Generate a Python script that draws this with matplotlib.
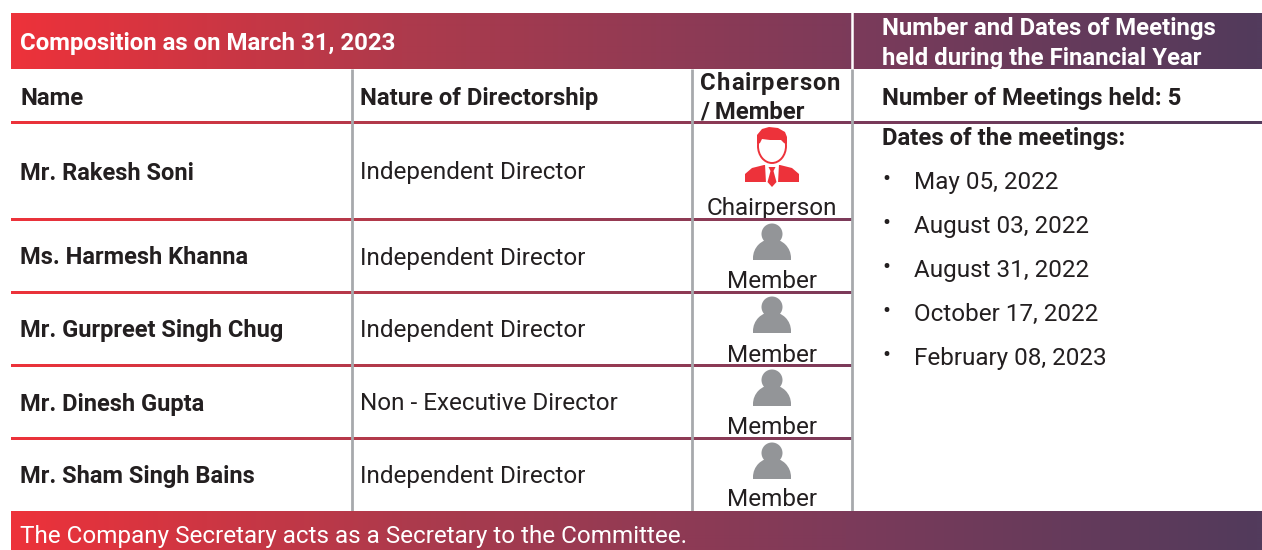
import numpy as np
import matplotlib
matplotlib.use('Agg')
import matplotlib.pyplot as plt
from matplotlib.colors import LinearSegmentedColormap
from matplotlib.patches import Circle, Ellipse, Polygon, Rectangle, Wedge

plt.rcParams['font.family'] = ['Roboto', 'DejaVu Sans']

names = ['Mr. Rakesh Soni', 'Ms. Harmesh Khanna', 'Mr. Gurpreet Singh Chug', 'Mr. Dinesh Gupta', 'Mr. Sham Singh Bains']
nature = ['Independent Director', 'Independent Director', 'Independent Director', 'Non - Executive Director', 'Independent Director']
roles = ['Chairperson', 'Member', 'Member', 'Member', 'Member']
dates = ['May 05, 2022', 'August 03, 2022', 'August 31, 2022', 'October 17, 2022', 'February 08, 2023']
meetings_held = 5

row_lines = [123, 219.5, 292.5, 365.5, 438.5]
row_mid = [173, 258, 331, 404, 477]
role_y = [208.5, 282, 355, 427.5, 500]
date_y = [182, 226, 270, 314, 358]
icon_top = [127, 223, 296, 369, 442]

RED = '#ed323a'
GREY = '#a7a9ac'
ICON = '#939598'
DARK = '#231f20'
FS_BOLD = 17.2
FS_REG = 17.45

cmap = LinearSegmentedColormap.from_list('band', [(0, RED), (0.31, '#ae3a4c'), (0.67, '#7c3a5a'), (1, '#523b5c')])
grad = np.linspace(0, 1, 1251).reshape(1, -1)

fig = plt.figure(figsize=(12.62, 5.5), dpi=100)
ax = fig.add_axes([0, 0, 1, 1])
ax.set_xlim(0, 1262)
ax.set_ylim(550, 0)
ax.axis('off')


def band(y0, y1, x1=1262, z=1):
    # slice of the one gradient so that bands and rules line up
    n = x1 - 11
    ax.imshow(grad[:, :n], extent=[11, x1, y1, y0], cmap=cmap, vmin=0, vmax=1,
              aspect='auto', zorder=z, interpolation='bilinear')


def member_icon(cx, top):
    ax.add_patch(Circle((cx, top + 11), 10.5, color=ICON, lw=0, zorder=4))
    ax.add_patch(Wedge((cx, top + 35), 19, 180, 360, color=ICON, lw=0, zorder=4))
    ax.add_patch(Rectangle((cx - 19, top + 34), 38, 3, color=ICON, lw=0, zorder=4))


def chair_icon(cx, top):
    # shoulders
    ax.add_patch(Polygon([(cx - 27, top + 55), (cx - 27, top + 47), (cx - 20, top + 41), (cx - 8, top + 38),
                          (cx + 8, top + 38), (cx + 20, top + 41), (cx + 27, top + 47), (cx + 27, top + 55)],
                         closed=True, color=RED, lw=0, zorder=4))
    # white gap round the tie
    ax.add_patch(Polygon([(cx - 7, top + 37), (cx + 7, top + 37), (cx + 6, top + 56), (cx - 6, top + 56)],
                         closed=True, color='white', lw=0, zorder=5))
    ax.add_patch(Polygon([(cx - 3.5, top + 40), (cx + 3.5, top + 40), (cx + 1.5, top + 44), (cx + 4.5, top + 55), (cx, top + 60),
                          (cx - 4.5, top + 55), (cx - 1.5, top + 44)],
                         closed=True, color=RED, lw=0, zorder=6))
    # face and hair
    ax.add_patch(Ellipse((cx, top + 19), 28, 34, facecolor='white', edgecolor=RED, lw=1.4, zorder=5))
    ax.add_patch(Polygon([(cx - 15, top + 17), (cx - 15, top + 8), (cx - 10, top + 2), (cx - 3, top), (cx + 6, top + 1),
                          (cx + 13, top + 5), (cx + 15, top + 10), (cx + 15, top + 17), (cx + 12, top + 16),
                          (cx + 9, top + 13), (cx - 2, top + 13), (cx - 10, top + 12), (cx - 12, top + 16)],
                         closed=True, color=RED, lw=0, zorder=6))


def spaced_text(x, y, s, extra, **kw):
    # header word has tracking in the original, so step through the letters
    renderer = fig.canvas.get_renderer()
    for ch in s:
        t = ax.text(x, y, ch, **kw)
        x += t.get_window_extent(renderer).width + extra


# top and bottom bands
band(13, 69)
band(511, 550, z=5)

# rules
for y in row_lines[1:]:
    band(y - 1.2, y + 1.2, x1=852, z=3)
band(row_lines[0] - 1.2, row_lines[0] + 1.2, z=3)

ax.plot([852, 852], [13, 69], color='white', lw=1.8, zorder=3)
for x in [352, 692, 852]:
    ax.plot([x, x], [69, 511], color=GREY, lw=2, zorder=3, solid_capstyle='butt')

# header text
ax.text(20, 43.5, 'Composition as on March 31, 2023', color='white', fontsize=17.3, fontweight='bold', va='center', zorder=6)
ax.text(882, 29, 'Number and Dates of Meetings', color='white', fontsize=FS_BOLD, fontweight='bold', va='center', zorder=6)
t = ax.text(882, 59, 'held during the Financial Year', color='white', fontsize=FS_BOLD, fontweight='bold', va='center', zorder=6)
t.set_clip_path(Rectangle((0, 13), 1262, 55, transform=ax.transData))

ax.text(20, 98.5, 'Name', color=DARK, fontsize=FS_BOLD, fontweight='bold', va='center', zorder=6)
ax.text(360, 98.5, 'Nature of Directorship', color=DARK, fontsize=FS_BOLD, fontweight='bold', va='center', zorder=6)
spaced_text(700, 90, 'Chairperson', 0.9, color=DARK, fontsize=FS_BOLD, fontweight='bold', va='baseline', zorder=6)
ax.text(700, 112, '/ Member', color=DARK, fontsize=FS_BOLD, fontweight='bold', va='center', zorder=6)
ax.text(882, 98.5, f'Number of Meetings held: {meetings_held}', color=DARK, fontsize=FS_BOLD, fontweight='bold', va='center', zorder=6)

# rows
for i in range(len(names)):
    ax.text(20, row_mid[i], names[i], color=DARK, fontsize=17.0, fontweight='bold', va='center', zorder=6)
    ax.text(360, row_mid[i], nature[i], color=DARK, fontsize=FS_REG, va='center', zorder=6)
    ax.text(772, role_y[i], roles[i], color=DARK, fontsize=FS_REG, ha='center', va='center', zorder=2)
    if roles[i] == 'Chairperson':
        chair_icon(772, icon_top[i])
    else:
        member_icon(772, icon_top[i])

# meeting dates
ax.text(882, 139, 'Dates of the meetings:', color=DARK, fontsize=FS_BOLD, fontweight='bold', va='center', zorder=6)
for d, y in zip(dates, date_y):
    ax.text(886, y - 3, '•', color=DARK, fontsize=17, ha='center', va='center', zorder=6)
    ax.text(914, y, d, color=DARK, fontsize=FS_REG, va='center', zorder=6)

ax.text(20, 537, 'The Company Secretary acts as a Secretary to the Committee.', color='white', fontsize=FS_REG, va='center', zorder=6)

fig.savefig('out.png', dpi=100)
